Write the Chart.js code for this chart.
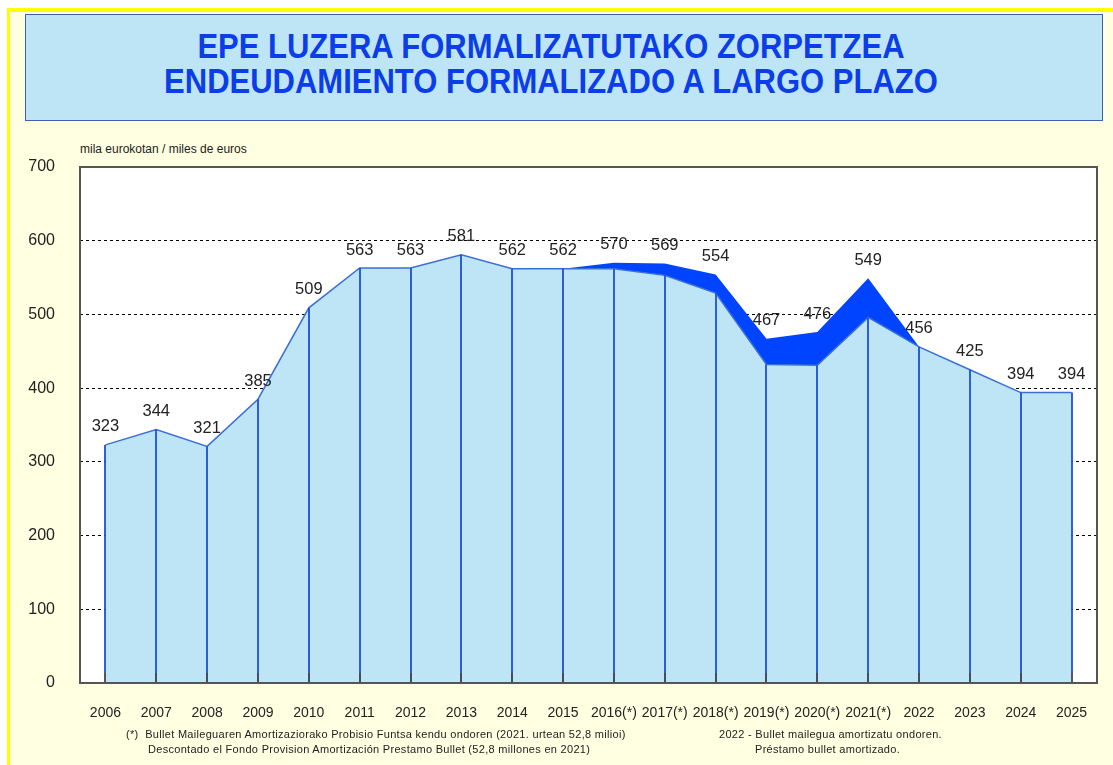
<!DOCTYPE html>
<html>
<head>
<meta charset="utf-8">
<script src="https://cdn.jsdelivr.net/npm/chart.js@4/dist/chart.umd.min.js"></script>
<style>
  html, body { margin: 0; padding: 0; background: #ffffff; }
  body { width: 1113px; height: 765px; position: relative; overflow: hidden; font-family: Arial, "Liberation Sans", sans-serif; }
  .frame { position: absolute; left: 7px; top: 8px; width: 1200px; height: 900px; border-top: 4px solid #ffff00; border-left: 3px solid #ffff00; background: #ffffe1; }
  .title { position: absolute; left: 25px; top: 14px; width: 1078px; height: 107px; background: #bde5f5; border: 1.5px solid #3d5fae; box-sizing: border-box; text-align: center; color: #0b3de8; font-weight: bold; font-size: 31px; line-height: 35px; padding-top: 14px; padding-right: 26px; }
  .title span { display: inline-block; transform: scaleY(1.13); }
  #chart { position: absolute; left: 0; top: 0; }
  .unit { position: absolute; left: 80px; top: 142px; font-size: 12px; color: #222; }
  .note { position: absolute; font-size: 11px; letter-spacing: 0.3px; color: #222; white-space: pre; }
</style>
</head>
<body>
<div class="frame"></div>
<div class="title"><span>EPE LUZERA FORMALIZATUTAKO ZORPETZEA</span><br><span>ENDEUDAMIENTO FORMALIZADO A LARGO PLAZO</span></div>
<div class="unit">mila eurokotan / miles de euros</div>
<canvas id="chart" width="1113" height="765"></canvas>
<div class="note" style="left:126px; top:728px;">(*)  Bullet Maileguaren Amortizaziorako Probisio Funtsa kendu ondoren (2021. urtean 52,8 milioi)</div>
<div class="note" style="left:148px; top:743px;">Descontado el Fondo Provision Amortización Prestamo Bullet (52,8 millones en 2021)</div>
<div class="note" style="left:719px; top:728px;">2022 - Bullet mailegua amortizatu ondoren.</div>
<div class="note" style="left:755px; top:743px;">Préstamo bullet amortizado.</div>
<script>
// years on the x axis
const years = ['2006', '2007', '2008', '2009', '2010', '2011', '2012', '2013', '2014', '2015',
  '2016(*)', '2017(*)', '2018(*)', '2019(*)', '2020(*)', '2021(*)', '2022', '2023', '2024', '2025'];

// debt after deducting the bullet provision fund (light area)
const netDebt = [323, 344, 321, 385, 509, 563, 563, 581, 562, 562,
  562, 553, 529, 432, 431, 496, 456, 425, 394, 394];

// bullet provision fund stacked on top (dark area)
const bulletFund = [0, 0, 0, 0, 0, 0, 0, 0, 0, 0,
  8, 16, 25, 35, 45, 53, 0, 0, 0, 0];

// labels written above each year
const totalLabels = ['323', '344', '321', '385', '509', '563', '563', '581', '562', '562',
  '570', '569', '554', '467', '476', '549', '456', '425', '394', '394'];

const yTicks = [0, 100, 200, 300, 400, 500, 600, 700];

// white plot background
const plotBackground = {
  id: 'plotBackground',
  beforeDraw: (chart) => {
    const { ctx, chartArea: a } = chart;
    ctx.save();
    ctx.fillStyle = '#ffffff';
    ctx.fillRect(a.left, a.top, a.right - a.left, a.bottom - a.top);
    ctx.restore();
  }
};

// vertical drop lines, value labels and frame
const decorations = {
  id: 'decorations',
  afterDatasetsDraw: (chart) => {
    const { ctx, chartArea: a, scales } = chart;
    const x = scales.x, y = scales.y;
    ctx.save();
    netDebt.forEach((v, i) => {
      const px = Math.round(x.getPixelForValue(i));
      ctx.strokeStyle = '#1b4fd8';
      ctx.lineWidth = 1.8;
      ctx.beginPath();
      ctx.moveTo(px, y.getPixelForValue(v));
      ctx.lineTo(px, a.bottom - 10);
      ctx.stroke();
      ctx.strokeStyle = '#111111';
      ctx.lineWidth = 1.4;
      ctx.beginPath();
      ctx.moveTo(px, a.bottom - 10);
      ctx.lineTo(px, a.bottom);
      ctx.stroke();
    });
    ctx.fillStyle = '#222222';
    ctx.font = '16.5px Arial, "Liberation Sans", sans-serif';
    ctx.textAlign = 'center';
    ctx.textBaseline = 'middle';
    netDebt.forEach((v, i) => {
      const total = v + bulletFund[i];
      ctx.fillText(totalLabels[i], x.getPixelForValue(i), y.getPixelForValue(total) - 18);
    });
    ctx.strokeStyle = '#555555';
    ctx.lineWidth = 2;
    ctx.strokeRect(a.left, a.top, a.right - a.left, a.bottom - a.top);
    ctx.restore();
  }
};

new Chart(document.getElementById('chart'), {
  type: 'line',
  data: {
    labels: years,
    datasets: [
      {
        label: 'net',
        data: netDebt,
        fill: 'origin',
        backgroundColor: '#bde5f5',
        borderColor: '#3b6fd6',
        borderWidth: 1.5,
        pointRadius: 0,
        tension: 0
      },
      {
        label: 'fund',
        data: bulletFund,
        fill: '-1',
        backgroundColor: '#0044ff',
        borderColor: '#0044ff',
        borderWidth: 0,
        pointRadius: 0,
        tension: 0
      }
    ]
  },
  options: {
    responsive: false,
    animation: false,
    layout: { padding: { left: 0, top: 167, right: 16, bottom: 42 } },
    plugins: {
      legend: { display: false },
      tooltip: { enabled: false }
    },
    scales: {
      x: {
        offset: true,
        grid: { display: false },
        border: { display: false },
        ticks: { color: '#222', font: { family: 'Arial', size: 14 }, padding: 14, maxRotation: 0, autoSkip: false },
        afterFit: (scale) => { scale.height = 40; }
      },
      y: {
        stacked: true,
        min: 0,
        max: 700,
        afterBuildTicks: (scale) => { scale.ticks = yTicks.map(v => ({ value: v })); },
        grid: {
          drawTicks: false,
          color: (c) => (c.tick && c.tick.value > 0 && c.tick.value < 700) ? '#000000' : 'rgba(0,0,0,0)',
          lineWidth: 1
        },
        border: { display: false, dash: [3, 3] },
        ticks: { color: '#222', font: { family: 'Arial', size: 16 }, padding: 25 },
        afterFit: (scale) => { scale.width = 80; }
      }
    }
  },
  plugins: [plotBackground, decorations]
});
</script>
</body>
</html>
